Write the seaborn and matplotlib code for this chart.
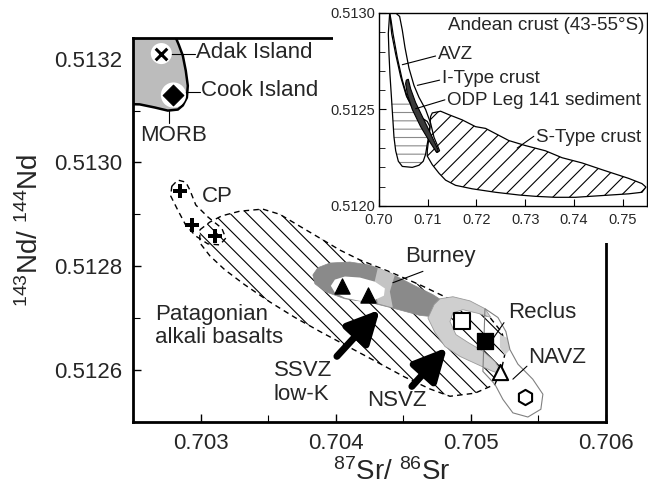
import numpy as np
import pandas as pd
import matplotlib
matplotlib.use('Agg')
import matplotlib.pyplot as plt
import seaborn as sns
from matplotlib.patches import Rectangle
from matplotlib.ticker import MultipleLocator, FormatStrFormatter

sns.set_theme(style='white')
plt.rcParams['font.family'] = ['Liberation Sans', 'DejaVu Sans']
plt.rcParams['mathtext.fontset'] = 'custom'
plt.rcParams['mathtext.rm'] = 'Liberation Sans'
plt.rcParams['mathtext.it'] = 'Liberation Sans:italic'
plt.rcParams['hatch.linewidth'] = 0.8

# ---------------- data (main panel: 87Sr/86Sr vs 143Nd/144Nd) ----------------
adak = {'sr': [0.70271], 'nd': [0.51321]}
cook = {'sr': [0.70280], 'nd': [0.51313]}
cp_sr = [0.70285, 0.70294, 0.70311]
cp_nd = [0.512945, 0.51288, 0.512858]
ssvz_sr = [0.704044, 0.704241]
ssvz_nd = [0.512761, 0.512745]
burney_sr = [0.704933]
burney_nd = [0.512694]
reclus_sr = [0.705106]
reclus_nd = [0.512655]
nsvz_tri_sr = [0.705217]
nsvz_tri_nd = [0.512595]
navz_sr = [0.705402]
navz_nd = [0.512548]

morb_x = [0.7024, 0.702802, 0.702839, 0.702869, 0.702891, 0.702906, 0.702899,
          0.702869, 0.702832, 0.702758, 0.702661, 0.70255, 0.7024]
morb_y = [0.51325, 0.51325, 0.513227, 0.513206, 0.513177, 0.513148, 0.513125,
          0.51311, 0.513102, 0.5131, 0.513106, 0.513112, 0.513113]

cp_x = [0.702787, 0.702832, 0.702891, 0.702921, 0.702965, 0.703054, 0.703158,
        0.703187, 0.703143, 0.703054, 0.702965, 0.702891, 0.702832, 0.70278]
cp_y = [0.512954, 0.512966, 0.512962, 0.512947, 0.512918, 0.512895, 0.512873,
        0.512854, 0.512841, 0.512843, 0.512858, 0.512879, 0.512908, 0.512935]

pat_x = [0.702995, 0.703069, 0.703158, 0.703291, 0.703461, 0.703587, 0.703735,
         0.703884, 0.704032, 0.70418, 0.704402, 0.704624, 0.704825, 0.704995,
         0.705143, 0.705232, 0.705261, 0.705232, 0.70518, 0.705032, 0.704847,
         0.7047, 0.704513, 0.704328, 0.704106, 0.703884, 0.703699, 0.703513,
         0.703328, 0.70318, 0.703069, 0.702995]
pat_y = [0.51287, 0.512885, 0.512897, 0.512906, 0.51291, 0.5129, 0.512877,
         0.512854, 0.512831, 0.512812, 0.512789, 0.512764, 0.512739, 0.51272,
         0.512701, 0.512672, 0.512639, 0.512605, 0.512572, 0.512555, 0.512549,
         0.512563, 0.512586, 0.512612, 0.512643, 0.512674, 0.512701, 0.512731,
         0.512764, 0.512793, 0.51282, 0.512845]

ssvz_band_x = [0.703832, 0.703869, 0.703958, 0.704106, 0.704254, 0.704402, 0.704573,
               0.704721, 0.70481, 0.704825, 0.704773, 0.704624, 0.704439, 0.704254,
               0.704069, 0.703921, 0.703847]
ssvz_band_y = [0.512783, 0.512797, 0.512806, 0.512808, 0.512802, 0.512787, 0.512764,
               0.512745, 0.51273, 0.512712, 0.512701, 0.512705, 0.512718, 0.51273,
               0.512737, 0.512751, 0.512766]
ssvz_light_x = [0.704313, 0.704439, 0.704402, 0.704424, 0.704313, 0.704284]
ssvz_light_y = [0.512797, 0.512783, 0.512751, 0.51272, 0.512728, 0.512764]
ssvz_core_x = [0.703965, 0.703995, 0.704069, 0.70418, 0.704291, 0.704365, 0.704358,
               0.704291, 0.70418, 0.704069, 0.703995]
ssvz_core_y = [0.512762, 0.512774, 0.51278, 0.512778, 0.51277, 0.512757, 0.512743,
               0.512735, 0.512733, 0.512739, 0.512749]

nsvz_x = [0.70473, 0.704773, 0.704869, 0.704995, 0.705106, 0.70515, 0.705054,
          0.704943, 0.704869, 0.704847, 0.704891, 0.70498, 0.705091, 0.705180,
          0.705239, 0.705165, 0.705054, 0.70492, 0.70481, 0.704736, 0.704684]
nsvz_y = [0.512726, 0.512737, 0.512741, 0.512733, 0.512718, 0.512701, 0.512709,
          0.512716, 0.51271, 0.512693, 0.512668, 0.512653, 0.512636, 0.512616,
          0.512591, 0.512597, 0.51261, 0.512626, 0.512645, 0.512672, 0.5127]
navz_x = [0.705106, 0.705202, 0.705261, 0.705291, 0.705350, 0.705460, 0.705535,
          0.70552, 0.705424, 0.705313, 0.705239, 0.705180, 0.705091]
navz_y = [0.512718, 0.512701, 0.512674, 0.512639, 0.512611, 0.512582, 0.512553,
          0.512524, 0.512509, 0.512517, 0.512543, 0.512572, 0.512597]
reclus_patch_x = [0.705217, 0.705269, 0.705291, 0.705254, 0.705217]
reclus_patch_y = [0.512668, 0.512662, 0.512639, 0.512628, 0.512643]

# ---------------- data (inset: Andean crust) ----------------
avz_x = [0.70219, 0.70191, 0.70205, 0.70225, 0.70253, 0.7028, 0.70307, 0.70342,
         0.70396, 0.70478, 0.70683, 0.7082, 0.70908, 0.70956, 0.7099, 0.71025,
         0.71045, 0.7099, 0.70888, 0.70717, 0.70581, 0.70478, 0.70376, 0.70287,
         0.70246]
avz_y = [0.5130, 0.512893, 0.512786, 0.512679, 0.512571, 0.512464, 0.512357, 0.512286,
         0.512232, 0.512205, 0.5122, 0.512211, 0.512232, 0.512268, 0.512321, 0.512366,
         0.512411, 0.512438, 0.512455, 0.5125, 0.512563, 0.512652, 0.512768, 0.512893,
         0.512964]
avz_low_x = [0.70253, 0.70267, 0.7028, 0.70307, 0.70342, 0.70396, 0.70478, 0.70683,
             0.7082, 0.70908, 0.70956, 0.7099, 0.71025, 0.71045, 0.7099, 0.70888,
             0.70717, 0.70649]
avz_low_y = [0.512536, 0.5125, 0.512464, 0.512357, 0.512286, 0.512232, 0.512205, 0.5122,
             0.512211, 0.512232, 0.512268, 0.512321, 0.512366, 0.512411, 0.512438,
             0.512455, 0.5125, 0.512536]
itype_x = [0.70219, 0.7026, 0.70342, 0.70444, 0.7056, 0.70717, 0.70888, 0.71059, 0.71195,
           0.71243, 0.71127, 0.71059, 0.70956, 0.7082, 0.70717, 0.70615, 0.70533,
           0.70478, 0.70423, 0.70342]
itype_y = [0.5130, 0.512893, 0.512786, 0.51267, 0.512571, 0.512491, 0.51242, 0.512339,
           0.512277, 0.512286, 0.512357, 0.512429, 0.5125, 0.512563, 0.512625, 0.512714,
           0.512821, 0.512911, 0.512982, 0.5130]
odp_x = [0.7056, 0.70601, 0.70649, 0.70751, 0.70888, 0.71059, 0.71216, 0.71182,
         0.71025, 0.70854, 0.70683, 0.70581, 0.70546]
odp_y = [0.512652, 0.512657, 0.512607, 0.512536, 0.512464, 0.512375, 0.512289, 0.512277,
         0.512339, 0.512411, 0.5125, 0.51258, 0.512634]
stype_x = [0.71059, 0.71093, 0.71264, 0.71434, 0.71708, 0.71981, 0.72186, 0.72391,
           0.72664, 0.73005, 0.73415, 0.73757, 0.74167, 0.74577, 0.75123, 0.75396,
           0.75478, 0.75396, 0.75123, 0.74577, 0.7403, 0.7362, 0.7321, 0.72869,
           0.72391, 0.71913, 0.71571, 0.71366, 0.7123, 0.71093, 0.7099, 0.7099,
           0.71025, 0.71045]
stype_y = [0.512464, 0.512482, 0.512491, 0.512473, 0.512446, 0.512411, 0.512402,
           0.512375, 0.512339, 0.512313, 0.512286, 0.51225, 0.512223, 0.512188,
           0.512143, 0.512116, 0.512098, 0.512071, 0.512063, 0.512054, 0.512045,
           0.512045, 0.51205, 0.512057, 0.512071, 0.512089, 0.512107, 0.512134,
           0.51217, 0.512214, 0.512259, 0.512286, 0.512357, 0.512411]

main_xticks = [0.703, 0.704, 0.705, 0.706]
main_yticks = [0.5126, 0.5128, 0.5130, 0.5132]
inset_xticks = [0.70, 0.71, 0.72, 0.73, 0.74, 0.75]
inset_yticks = [0.5120, 0.5125, 0.5130]

# ---------------- figure ----------------
fig = plt.figure(figsize=(6.48, 4.88), dpi=100)
ax = fig.add_axes([0.2052, 0.1359, 0.7295, 0.7862])
ax.set_zorder(0)
ax.set_xlim(0.7025, 0.706)
ax.set_ylim(0.5125, 0.51324)

ax.fill(pat_x, pat_y, facecolor='white', edgecolor='black', hatch='\\\\',
        linestyle=(0, (4, 3)), lw=1.0, zorder=1)
ax.fill(cp_x, cp_y, facecolor='none', edgecolor='black', linestyle=(0, (4, 3)),
        lw=1.0, zorder=1)
ax.fill(morb_x, morb_y, facecolor='#bcbcbc', edgecolor='black', lw=1.8, zorder=1)
ax.fill(ssvz_band_x, ssvz_band_y, facecolor='#8a8a8a', edgecolor='#8a8a8a', lw=0.5, zorder=2)
ax.fill(ssvz_light_x, ssvz_light_y, facecolor='#c4c4c4', edgecolor='none', zorder=2.1)
ax.fill(ssvz_core_x, ssvz_core_y, facecolor='white', edgecolor='none', zorder=2.2)
ax.fill(nsvz_x, nsvz_y, facecolor='#cfcfcf', edgecolor='#9a9a9a', lw=0.6, zorder=2)
ax.fill(reclus_patch_x, reclus_patch_y, facecolor='#cfcfcf', edgecolor='none', zorder=2)
ax.fill(navz_x, navz_y, facecolor='none', edgecolor='#808080', lw=0.8, zorder=2)

# markers
sns.scatterplot(x=adak['sr'], y=adak['nd'], ax=ax, marker='o', s=230, color='white',
                edgecolor='none', zorder=4)
sns.scatterplot(x=cook['sr'], y=cook['nd'], ax=ax, marker='o', s=330, color='white',
                edgecolor='none', zorder=4)
ax.scatter(adak['sr'], adak['nd'], marker='x', s=70, color='black', linewidths=2.2, zorder=5)
sns.scatterplot(x=cook['sr'], y=cook['nd'], ax=ax, marker='D', s=110, color='black',
                edgecolor='black', zorder=5)
sns.scatterplot(x=cp_sr, y=cp_nd, ax=ax, marker='P', s=90, color='black',
                edgecolor='black', linewidth=0, zorder=5)
sns.scatterplot(x=ssvz_sr, y=ssvz_nd, ax=ax, marker='^', s=120, color='black',
                edgecolor='black', zorder=5)
sns.scatterplot(x=burney_sr, y=burney_nd, ax=ax, marker='s', s=140, color='white',
                edgecolor='black', linewidth=1.5, zorder=5)
sns.scatterplot(x=reclus_sr, y=reclus_nd, ax=ax, marker='s', s=140, color='black',
                edgecolor='black', zorder=5)
sns.scatterplot(x=nsvz_tri_sr, y=nsvz_tri_nd, ax=ax, marker='^', s=120, color='white',
                edgecolor='black', linewidth=1.5, zorder=5)
sns.scatterplot(x=navz_sr, y=navz_nd, ax=ax, marker='h', s=120, color='white',
                edgecolor='black', linewidth=1.5, zorder=5)

# leader lines
lk = dict(color='black', lw=0.8, zorder=3)
ax.plot([0.702785, 0.70296], [0.51321, 0.51321], **lk)
ax.plot([0.702884, 0.702995], [0.513135, 0.513135], **lk)
ax.plot([0.702765, 0.702765], [0.5131, 0.513077], **lk)
ax.plot([0.704647, 0.704424], [0.51279, 0.512768], **lk)
ax.plot([0.705247, 0.705165], [0.512691, 0.51266], **lk)
ax.plot([0.705313, 0.705417], [0.512582, 0.512607], **lk)

# arrows
ap = dict(arrowstyle='-|>,head_length=0.9,head_width=0.45', lw=5, color='black',
          mutation_scale=22, shrinkA=0, shrinkB=0)
ax.annotate('', xy=(0.704328, 0.512716), xytext=(0.70401, 0.512626), arrowprops=ap, zorder=6)
ax.annotate('', xy=(0.704825, 0.512643), xytext=(0.704565, 0.512568), arrowprops=ap, zorder=6)

fs = 16
ax.text(0.70297, 0.513213, 'Adak Island', fontsize=fs, va='center', ha='left')
ax.text(0.703, 0.513138, 'Cook Island', fontsize=fs, va='center', ha='left')
ax.text(0.70255, 0.513052, 'MORB', fontsize=fs, va='center', ha='left')
ax.text(0.703007, 0.512934, 'CP', fontsize=fs, va='center', ha='left')
ax.text(0.704773, 0.512818, 'Burney', fontsize=fs, va='center', ha='center')
ax.text(0.705276, 0.51271, 'Reclus', fontsize=fs, va='center', ha='left')
ax.text(0.705424, 0.512624, 'NAVZ', fontsize=fs, va='center', ha='left')
ax.text(0.704454, 0.512541, 'NSVZ', fontsize=fs, va='center', ha='center')
ax.text(0.703543, 0.512575, 'SSVZ\nlow-K', fontsize=fs, va='center', ha='left', linespacing=1.2)
ax.text(0.702661, 0.512685, 'Patagonian\nalkali basalts', fontsize=fs, va='center',
        ha='left', linespacing=1.15)

ax.xaxis.set_major_locator(plt.FixedLocator(main_xticks))
ax.yaxis.set_major_locator(plt.FixedLocator(main_yticks))
ax.xaxis.set_minor_locator(MultipleLocator(0.0005))
ax.yaxis.set_minor_locator(MultipleLocator(0.0001))
ax.xaxis.set_major_formatter(FormatStrFormatter('%.3f'))
ax.yaxis.set_major_formatter(FormatStrFormatter('%.4f'))
ax.tick_params(which='both', direction='in', color='black', labelsize=16,
               bottom=True, left=True, top=False, right=False)
ax.tick_params(which='major', length=6, width=1.0, pad=8)
ax.tick_params(which='minor', length=5, width=0.8)
for s in ['left', 'bottom', 'top', 'right']:
    ax.spines[s].set_visible(True)
    ax.spines[s].set_color('black')
    ax.spines[s].set_linewidth(2.0)

# white cover for the inset corner
fig.patches.append(Rectangle((0.5139, 0.502), 0.4861, 0.498, transform=fig.transFigure,
                             facecolor='white', edgecolor='none', zorder=1))

fig.text(392 / 648, 1 - 480 / 488, r'$^{\mathrm{87}}$Sr/ $^{\mathrm{86}}$Sr', fontsize=20,
         ha='center', va='baseline')
fig.text(30 / 648, 1 - 230 / 488, r'$^{\mathrm{143}}$Nd/ $^{\mathrm{144}}$Nd', fontsize=20,
         ha='center', va='center', rotation=90)

# ---------------- inset ----------------
ax2 = fig.add_axes([0.5849, 0.5779, 0.4136, 0.3955])
ax2.set_zorder(2)
ax2.set_facecolor('white')
ax2.set_xlim(0.70, 0.755)
ax2.set_ylim(0.5120, 0.5130)
ax2.fill(avz_low_x, avz_low_y, facecolor='none', edgecolor='#8a8a8a', hatch='--', lw=0)
ax2.fill(avz_x, avz_y, facecolor='none', edgecolor='black', lw=0.9)
ax2.fill(itype_x, itype_y, facecolor='none', edgecolor='black', lw=0.9)
ax2.fill(stype_x, stype_y, facecolor='none', edgecolor='black', hatch='//', lw=0.9)
ax2.fill(odp_x, odp_y, facecolor='#3a3a3a', edgecolor='black', lw=0.8)

ik = dict(color='black', lw=0.8)
ax2.plot([0.71161, 0.70478], [0.512777, 0.512732], **ik)
ax2.plot([0.71243, 0.70786], [0.512652, 0.512625], **ik)
ax2.plot([0.71352, 0.70751], [0.51255, 0.512504], **ik)
ax2.plot([0.73176, 0.72835], [0.512361, 0.5123], **ik)

ifs = 13.5
ax2.text(0.257, 0.9375, 'Andean crust (43-55°S)', transform=ax2.transAxes, fontsize=ifs,
         va='center', ha='left')
ax2.text(0.220, 0.786, 'AVZ', transform=ax2.transAxes, fontsize=ifs, va='center', ha='left')
ax2.text(0.236, 0.661, 'I-Type crust', transform=ax2.transAxes, fontsize=ifs, va='center',
         ha='left')
ax2.text(0.254, 0.545, 'ODP Leg 141 sediment', transform=ax2.transAxes, fontsize=ifs,
         va='center', ha='left')
ax2.text(0.587, 0.357, 'S-Type crust', transform=ax2.transAxes, fontsize=ifs, va='center',
         ha='left')

ax2.xaxis.set_major_locator(plt.FixedLocator(inset_xticks))
ax2.yaxis.set_major_locator(plt.FixedLocator(inset_yticks))
ax2.yaxis.set_minor_locator(MultipleLocator(0.0001))
ax2.xaxis.set_major_formatter(FormatStrFormatter('%.2f'))
ax2.yaxis.set_major_formatter(FormatStrFormatter('%.4f'))
ax2.tick_params(which='both', direction='in', color='black', labelsize=10.5,
                bottom=True, left=True, top=False, right=False)
ax2.tick_params(axis='x', pad=5)
ax2.tick_params(axis='y', pad=3)
ax2.tick_params(which='major', length=5, width=0.8)
ax2.tick_params(which='minor', length=4, width=0.6)
for s in ['left', 'bottom', 'top', 'right']:
    ax2.spines[s].set_visible(True)
    ax2.spines[s].set_color('black')
    ax2.spines[s].set_linewidth(1.0)

fig.savefig('out.png', dpi=100)
